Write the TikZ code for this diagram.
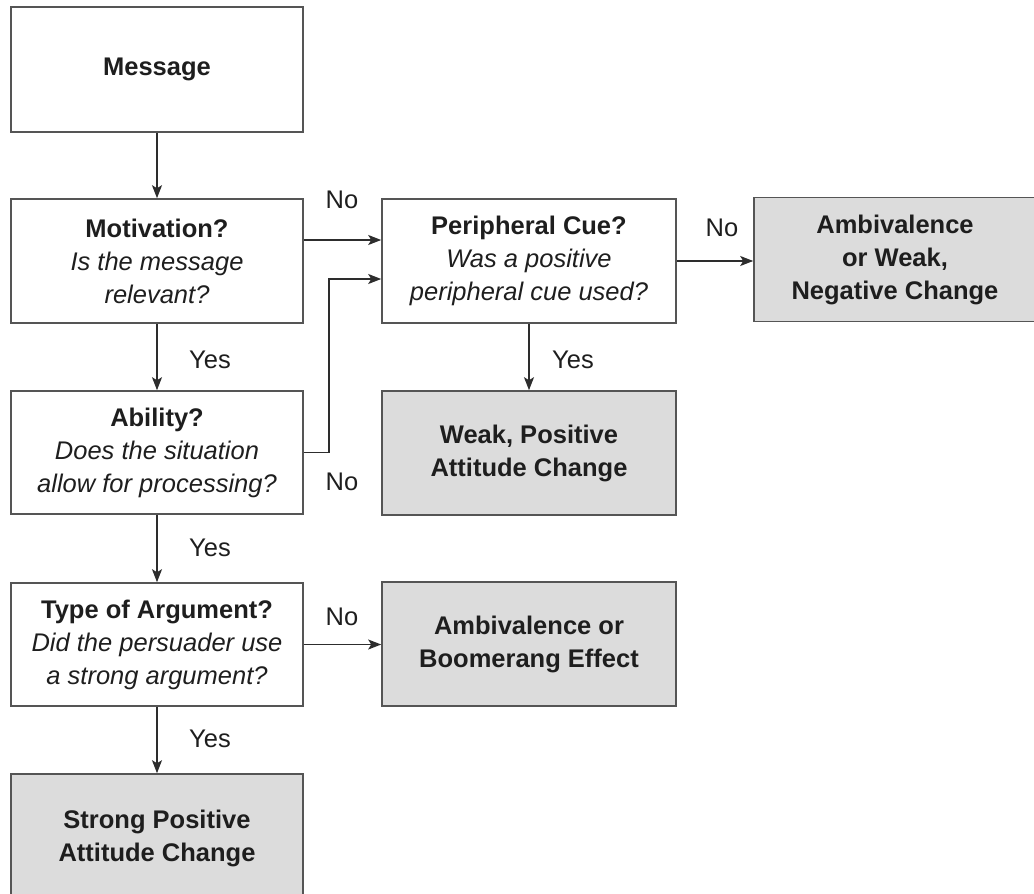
\documentclass[tikz,border=0pt]{standalone}
\usepackage{fontspec}
\setmainfont{Liberation Sans}
\usetikzlibrary{arrows.meta}
\definecolor{boxgray}{RGB}{220,220,220}
\definecolor{edgecol}{RGB}{85,85,85}
\definecolor{linecol}{RGB}{45,45,45}
\definecolor{txtcol}{RGB}{30,30,30}
\tikzset{
  flowbox/.style={draw=edgecol, line width=1.6pt, inner sep=0pt, align=center,
    text=txtcol, font=\fontsize{25.5}{33}\selectfont},
  resultbox/.style={flowbox, fill=boxgray},
  arr/.style={draw=linecol, line width=1.5pt, -{Stealth[length=13pt,width=10pt,inset=3pt]}},
  lbl/.style={text=txtcol, font=\fontsize{25.5}{33}\selectfont, inner sep=0pt}
}
\begin{document}
\begin{tikzpicture}[x=1pt,y=-1pt]
\useasboundingbox (0,0) rectangle (1034,894);
\clip (0,0) rectangle (1034,894);
% left column
\node[flowbox, minimum width=292pt, minimum height=125pt] (msg) at (157,69.5) {\textbf{Message}};
\node[flowbox, minimum width=292pt, minimum height=124pt] (mot) at (157,261) {\textbf{Motivation?}\\\textit{Is the message}\\\textit{relevant?}};
\node[flowbox, minimum width=292pt, minimum height=123pt] (abl) at (157,452.5) {\textbf{Ability?}\\\textit{Does the situation}\\\textit{allow for processing?}};
\node[flowbox, minimum width=292pt, minimum height=123pt] (typ) at (157,644.5) {\textbf{Type of Argument?}\\\textit{Did the persuader use}\\\textit{a strong argument?}};
\node[resultbox, minimum width=292pt, minimum height=128pt] (str) at (157,838) {\textbf{Strong Positive}\\\textbf{Attitude Change}};
% middle column
\node[flowbox, minimum width=294pt, minimum height=124pt] (per) at (529,261) {\textbf{Peripheral Cue?}\\\textit{Was a positive}\\\textit{peripheral cue used?}};
\node[resultbox, minimum width=294pt, minimum height=124pt] (wpc) at (529,453) {\textbf{Weak, Positive}\\\textbf{Attitude Change}};
\node[resultbox, minimum width=294pt, minimum height=124pt] (amb) at (529,644) {\textbf{Ambivalence or}\\\textbf{Boomerang Effect}};
% right column
\node[resultbox, minimum width=282pt, minimum height=124pt] (neg) at (895,259.5) {\textbf{Ambivalence}\\\textbf{or Weak,}\\\textbf{Negative Change}};
% connectors
\draw[arr] (msg.south) -- (mot.north);
\draw[arr] (mot.south) -- (abl.north);
\draw[arr] (abl.south) -- (typ.north);
\draw[arr] (typ.south) -- (str.north);
\draw[arr] ([yshift=21pt]mot.east) -- ([yshift=21pt]mot.east -| per.west);
\coordinate (bend) at (329,452.5);
\draw[arr] (abl.east) -- (bend) |- ([yshift=-18pt]per.west);
\draw[arr] (per.east) -- (per.east -| neg.west);
\draw[arr] (per.south) -- (wpc.north);
\draw[arr] (typ.east) -- (typ.east -| amb.west);
% labels
\node[lbl] (l1) at (342,200) {No};
\node[lbl] (l2) at (342,482) {No};
\node[lbl] (l3) at (342,617) {No};
\node[lbl] (l4) at (722,228) {No};
\node[lbl] (l5) at (210,360) {Yes};
\node[lbl] (l6) at (210,548) {Yes};
\node[lbl] (l7) at (210,739) {Yes};
\node[lbl] (l8) at (573,360) {Yes};
\end{tikzpicture}
\end{document}
